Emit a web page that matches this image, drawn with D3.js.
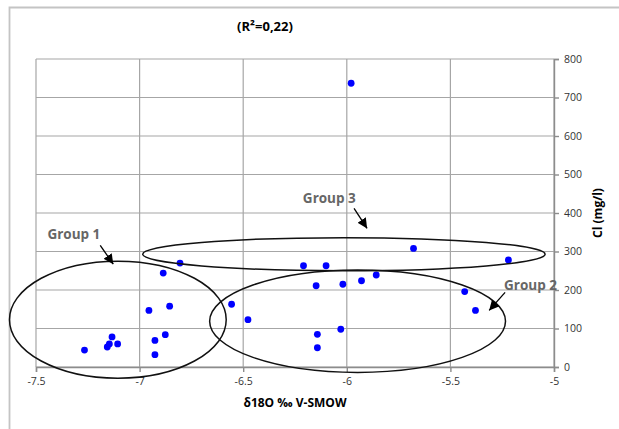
<!DOCTYPE html>
<html>
  <head>
    <meta charset="utf-8">
    <title>Cl vs d18O</title>
    <script src="https://d3js.org/d3.v7.min.js"></script>
    <style>
      body { margin: 0; background: #fff; }
      text { font-family: "Open Sans", "Liberation Sans", sans-serif; }
    </style>
  </head>
  <body>
    <svg id="chart" width="619" height="429"></svg>
    <script>
// data
var d18O = [-7.266, -7.156, -7.146, -7.133, -7.106, -6.955, -6.855, -6.926, -6.876, -6.926,
            -6.886, -6.805, -6.556, -6.477, -6.209, -6.148, -6.142, -6.142, -6.100, -6.019,
            -5.929, -5.858, -5.678, -5.220, -5.431, -5.379, -6.029, -5.979];
var chloride = [44, 52, 60, 78, 60, 147, 158, 69, 84, 32,
                244, 270, 163, 123, 263, 211, 85, 50, 263, 215,
                224, 239, 308, 278, 196, 147, 98, 737];

var xTicks = [-7.5, -7, -6.5, -6, -5.5, -5];
var yTicks = [0, 100, 200, 300, 400, 500, 600, 700, 800];

// group ellipses, data units: centre x, centre y, radius x, radius y
var groupNames = ["Group 1", "Group 2", "Group 3"];
var ellipseCx = [-7.105, -5.948, -6.014];
var ellipseCy = [123, 119, 293];
var ellipseRx = [0.523, 0.714, 0.971];
var ellipseRy = [152, 133, 43];
// label anchor and arrow (from -> to) in data units
var labelX = [-7.445, -5.241, -6.212];
var labelY = [332, 199, 425];
var arrowFrom = [[-7.19, 316], [-5.236, 194], [-5.965, 412]];
var arrowTo = [[-7.127, 267], [-5.313, 147], [-5.902, 360]];

var svg = d3.select("#chart");
var margin = {left: 36, right: 65, top: 59, bottom: 62};
var width = 619, height = 429;

var x = d3.scaleLinear().domain([-7.5, -5]).range([margin.left, width - margin.right]);
var y = d3.scaleLinear().domain([0, 800]).range([height - margin.bottom, margin.top]);

// outer chart frame
svg.append("path")
  .attr("d", "M9.5,429 L9.5,7.5 L619,7.5")
  .attr("fill", "none")
  .attr("stroke", "#c4c4c4")
  .attr("stroke-width", 1.8);

svg.append("defs").append("marker")
  .attr("id", "head")
  .attr("viewBox", "0 0 10 10")
  .attr("refX", 10).attr("refY", 5)
  .attr("markerWidth", 10).attr("markerHeight", 10)
  .attr("markerUnits", "userSpaceOnUse")
  .attr("orient", "auto")
  .append("path")
  .attr("d", "M0,0 L10,5 L0,10 z")
  .attr("fill", "#000");

// grid
svg.append("g").selectAll("line.h").data(yTicks).enter().append("line")
  .attr("x1", x(-7.5)).attr("x2", x(-5))
  .attr("y1", function(d) { return y(d); }).attr("y2", function(d) { return y(d); })
  .attr("stroke", "#a6a6a6").attr("stroke-width", 1.2);
svg.append("g").selectAll("line.v").data(xTicks).enter().append("line")
  .attr("x1", function(d) { return x(d); }).attr("x2", function(d) { return x(d); })
  .attr("y1", y(0)).attr("y2", y(800))
  .attr("stroke", "#a6a6a6").attr("stroke-width", 1.2);

// axes
var xAxis = svg.append("g")
  .attr("transform", "translate(0," + y(0) + ")")
  .call(d3.axisBottom(x).tickValues(xTicks).tickSize(5).tickPadding(6)
    .tickFormat(function(d) { return d3.format("")(d).replace("\u2212", "-"); }));
var yAxis = svg.append("g")
  .attr("transform", "translate(" + x(-5) + ",0)")
  .call(d3.axisRight(y).tickValues(yTicks).tickSize(5).tickPadding(5));

[xAxis, yAxis].forEach(function(a) {
  a.select(".domain").attr("stroke", "#8c8c8c").attr("stroke-width", 1.4);
  a.selectAll(".tick line").attr("stroke", "#8c8c8c").attr("stroke-width", 1.4);
  a.selectAll("text").attr("font-family", "Open Sans").attr("font-size", 10.5).attr("fill", "#333");
});

// points
svg.append("g").selectAll("circle").data(d18O).enter().append("circle")
  .attr("cx", function(d) { return x(d); })
  .attr("cy", function(d, i) { return y(chloride[i]); })
  .attr("r", 3.4)
  .attr("fill", "#0000ff");

// group ellipses
svg.append("g").selectAll("ellipse").data(groupNames).enter().append("ellipse")
  .attr("cx", function(d, i) { return x(ellipseCx[i]); })
  .attr("cy", function(d, i) { return y(ellipseCy[i]); })
  .attr("rx", function(d, i) { return x(ellipseCx[i] + ellipseRx[i]) - x(ellipseCx[i]); })
  .attr("ry", function(d, i) { return y(0) - y(ellipseRy[i]); })
  .attr("fill", "none")
  .attr("stroke", "#111")
  .attr("stroke-width", 1.5);

// arrows and labels
svg.append("g").selectAll("line").data(groupNames).enter().append("line")
  .attr("x1", function(d, i) { return x(arrowFrom[i][0]); })
  .attr("y1", function(d, i) { return y(arrowFrom[i][1]); })
  .attr("x2", function(d, i) { return x(arrowTo[i][0]); })
  .attr("y2", function(d, i) { return y(arrowTo[i][1]); })
  .attr("stroke", "#000")
  .attr("stroke-width", 1.3)
  .attr("marker-end", "url(#head)");

svg.append("g").selectAll("text").data(groupNames).enter().append("text")
  .attr("x", function(d, i) { return x(labelX[i]); })
  .attr("y", function(d, i) { return y(labelY[i]); })
  .attr("font-size", 13.5)
  .attr("font-weight", "bold")
  .attr("fill", "#666")
  .text(function(d) { return d; });

// titles
svg.append("text")
  .attr("x", 265).attr("y", 31)
  .attr("text-anchor", "middle")
  .attr("font-size", 13).attr("font-weight", "bold")
  .text("(R\u00b2=0,22)");

svg.append("text")
  .attr("x", (x(-7.5) + x(-5)) / 2).attr("y", 407)
  .attr("text-anchor", "middle")
  .attr("font-size", 12).attr("font-weight", "bold")
  .text("\u03b418O \u2030 V-SMOW");

svg.append("text")
  .attr("transform", "translate(602," + (y(0) + y(800)) / 2 + ") rotate(-90)")
  .attr("text-anchor", "middle")
  .attr("font-size", 12).attr("font-weight", "bold")
  .text("Cl (mg/l)");
    </script>
  </body>
</html>
